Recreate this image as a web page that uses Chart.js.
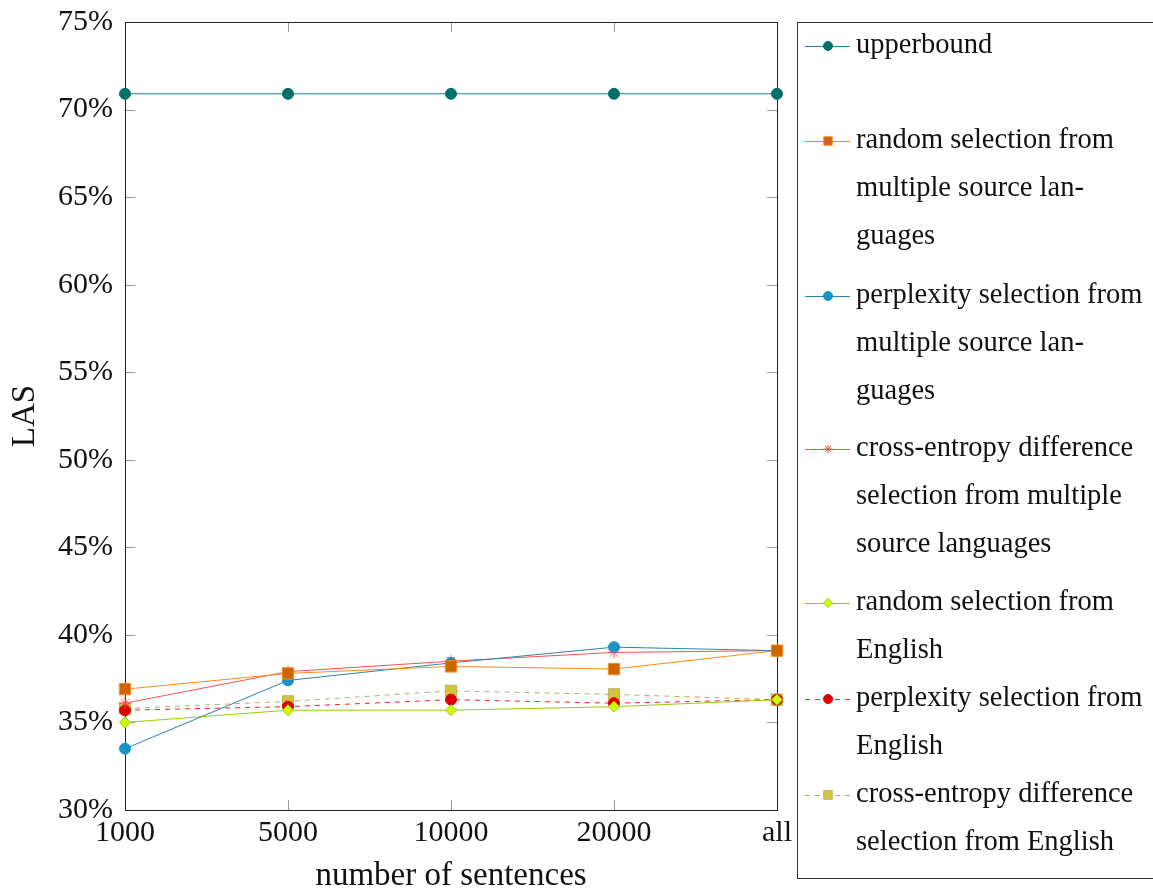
<!DOCTYPE html>
<html lang="en">
<head>
  <meta charset="UTF-8">
  <title>LAS vs number of sentences</title>
  <script src="https://cdn.jsdelivr.net/npm/chart.js"></script>
  <style>
    body {
      margin: 0;
      background: #fff;
    }
    #wrap {
      width: 1153px;
      height: 893px;
    }
  </style>
</head>
<body>
  <div id="wrap"><canvas id="lasChart" width="1153" height="893"></canvas></div>

  <script>
    // x categories and series (LAS in %)
    const sizes = ['1000', '5000', '10000', '20000', 'all'];
    const upperbound = [70.9, 70.9, 70.9, 70.9, 70.9];
    const randomMulti = [36.9, 37.8, 38.2, 38.05, 39.1];
    const perplexityMulti = [33.5, 37.4, 38.4, 39.3, 39.1];
    const crossEntropyMulti = [36.1, 37.9, 38.5, 39.0, 39.1];
    const randomEnglish = [35.0, 35.7, 35.7, 35.9, 36.3];
    const perplexityEnglish = [35.7, 35.9, 36.3, 36.1, 36.3];
    const crossEntropyEnglish = [35.8, 36.2, 36.8, 36.6, 36.3];
    const yTicks = [30, 35, 40, 45, 50, 55, 60, 65, 70, 75];

    // legend text, already broken into lines like the original
    const legendLines = [
      ['upperbound'],
      ['random selection from', 'multiple source lan-', 'guages'],
      ['perplexity selection from', 'multiple source lan-', 'guages'],
      ['cross-entropy difference', 'selection from multiple', 'source languages'],
      ['random selection from', 'English'],
      ['perplexity selection from', 'English'],
      ['cross-entropy difference', 'selection from English']
    ];

    const FONT = '"Liberation Serif", "DejaVu Serif", serif';

    function series(data, line, fill, edge, style, radius, dashed) {
      return {
        data: data,
        borderColor: line,
        borderWidth: 1,
        borderDash: dashed ? [5, 5] : [],
        pointStyle: style,
        pointRadius: radius,
        pointBackgroundColor: fill,
        pointBorderColor: edge,
        pointBorderWidth: 1,
        tension: 0,
        fill: false,
        clip: false
      };
    }

    // frame + inward tick marks like pgfplots
    const framePlugin = {
      id: 'frame',
      beforeDatasetsDraw(chart) {
        const { ctx, chartArea: a, scales } = chart;
        ctx.save();
        ctx.strokeStyle = '#999';
        ctx.lineWidth = 1;
        ctx.beginPath();
        yTicks.forEach(v => {
          const y = Math.round(scales.y.getPixelForValue(v)) + 0.5;
          ctx.moveTo(a.left, y); ctx.lineTo(a.left + 10, y);
          ctx.moveTo(a.right, y); ctx.lineTo(a.right - 10, y);
        });
        sizes.forEach((s, i) => {
          const x = Math.round(scales.x.getPixelForValue(i)) + 0.5;
          ctx.moveTo(x, a.bottom); ctx.lineTo(x, a.bottom - 10);
          ctx.moveTo(x, a.top); ctx.lineTo(x, a.top + 10);
        });
        ctx.stroke();
        ctx.strokeStyle = '#222';
        ctx.strokeRect(Math.round(a.left) + 0.5, Math.round(a.top) + 0.5,
          Math.round(a.right - a.left), Math.round(a.bottom - a.top));
        ctx.restore();
      }
    };

    // legend box on the right with wrapped text
    const legendPlugin = {
      id: 'sideLegend',
      afterDraw(chart) {
        const ctx = chart.ctx;
        const boxX = 797, boxY = 22, boxBottom = 878;
        const entryY = [46, 141, 296, 449, 603, 699, 795];
        const lineGap = 48;
        ctx.save();
        ctx.strokeStyle = '#333';
        ctx.lineWidth = 1;
        ctx.strokeRect(boxX + 0.5, boxY + 0.5, 420, boxBottom - boxY);

        chart.data.datasets.forEach((ds, i) => {
          const y = entryY[i];
          ctx.strokeStyle = ds.borderColor;
          ctx.lineWidth = 1;
          ctx.setLineDash(ds.borderDash);
          ctx.beginPath();
          ctx.moveTo(805, y + 0.5);
          ctx.lineTo(850, y + 0.5);
          ctx.stroke();
          ctx.setLineDash([]);
          ctx.fillStyle = ds.pointBackgroundColor;
          ctx.strokeStyle = ds.pointBorderColor;
          Chart.helpers.drawPoint(ctx, {
            pointStyle: ds.pointStyle,
            radius: ds.pointStyle === 'rect' ? 6 : 4.5,
            borderWidth: 1,
            rotation: 0
          }, 828, y);

          ctx.fillStyle = '#111';
          ctx.font = '28.5px ' + FONT;
          ctx.textBaseline = 'middle';
          ctx.textAlign = 'left';
          legendLines[i].forEach((t, k) => ctx.fillText(t, 856, y + k * lineGap));
        });
        ctx.restore();
      }
    };

    const ctx = document.getElementById('lasChart').getContext('2d');
    new Chart(ctx, {
      type: 'line',
      data: {
        labels: sizes,
        datasets: [
          series(upperbound, '#1f8585', '#00706b', '#00706b', 'circle', 5.5, false),
          series(randomMulti, '#ff8a1a', '#cc6600', '#ff8a1a', 'rect', 8, false),
          series(perplexityMulti, '#2a86a8', '#1794c4', '#1794c4', 'circle', 5.5, false),
          series(crossEntropyMulti, '#ff5050', '#ff5050', '#ff5050', 'star', 6, false),
          series(randomEnglish, '#99cc00', '#ccff00', '#99cc00', 'rectRot', 5.5, false),
          series(perplexityEnglish, '#ff1a1a', '#dd0000', '#dd0000', 'circle', 5.5, true),
          series(crossEntropyEnglish, '#b5ad6a', '#d4c43c', '#b8ae60', 'rect', 8, true)
        ]
      },
      options: {
        responsive: false,
        animation: false,
        devicePixelRatio: 1,
        layout: { padding: { top: 22, right: 376, bottom: 0, left: 0 } },
        plugins: {
          legend: { display: false },
          tooltip: { enabled: false }
        },
        scales: {
          x: {
            offset: false,
            grid: { display: false, drawTicks: false },
            border: { display: false },
            ticks: {
              color: '#111',
              font: { family: FONT, size: 30 },
              padding: 5,
              maxRotation: 0,
              autoSkip: false
            },
            title: {
              display: true,
              text: 'number of sentences',
              color: '#111',
              font: { family: FONT, size: 33, lineHeight: 1 },
              padding: 0
            },
            afterFit(scale) { scale.height = 83; }
          },
          y: {
            min: 30,
            max: 75,
            grid: { display: false, drawTicks: false },
            border: { display: false },
            afterBuildTicks(scale) { scale.ticks = yTicks.map(v => ({ value: v })); },
            ticks: {
              color: '#111',
              font: { family: FONT, size: 30 },
              padding: 12,
              callback: v => v + '%'
            },
            title: {
              display: true,
              text: 'LAS',
              color: '#111',
              font: { family: FONT, size: 33 },
              padding: 6
            },
            afterFit(scale) {
              scale.width = 125;
              scale.paddingTop = 0;
              scale.paddingBottom = 0;
            }
          }
        }
      },
      plugins: [framePlugin, legendPlugin]
    });
  </script>
</body>
</html>
